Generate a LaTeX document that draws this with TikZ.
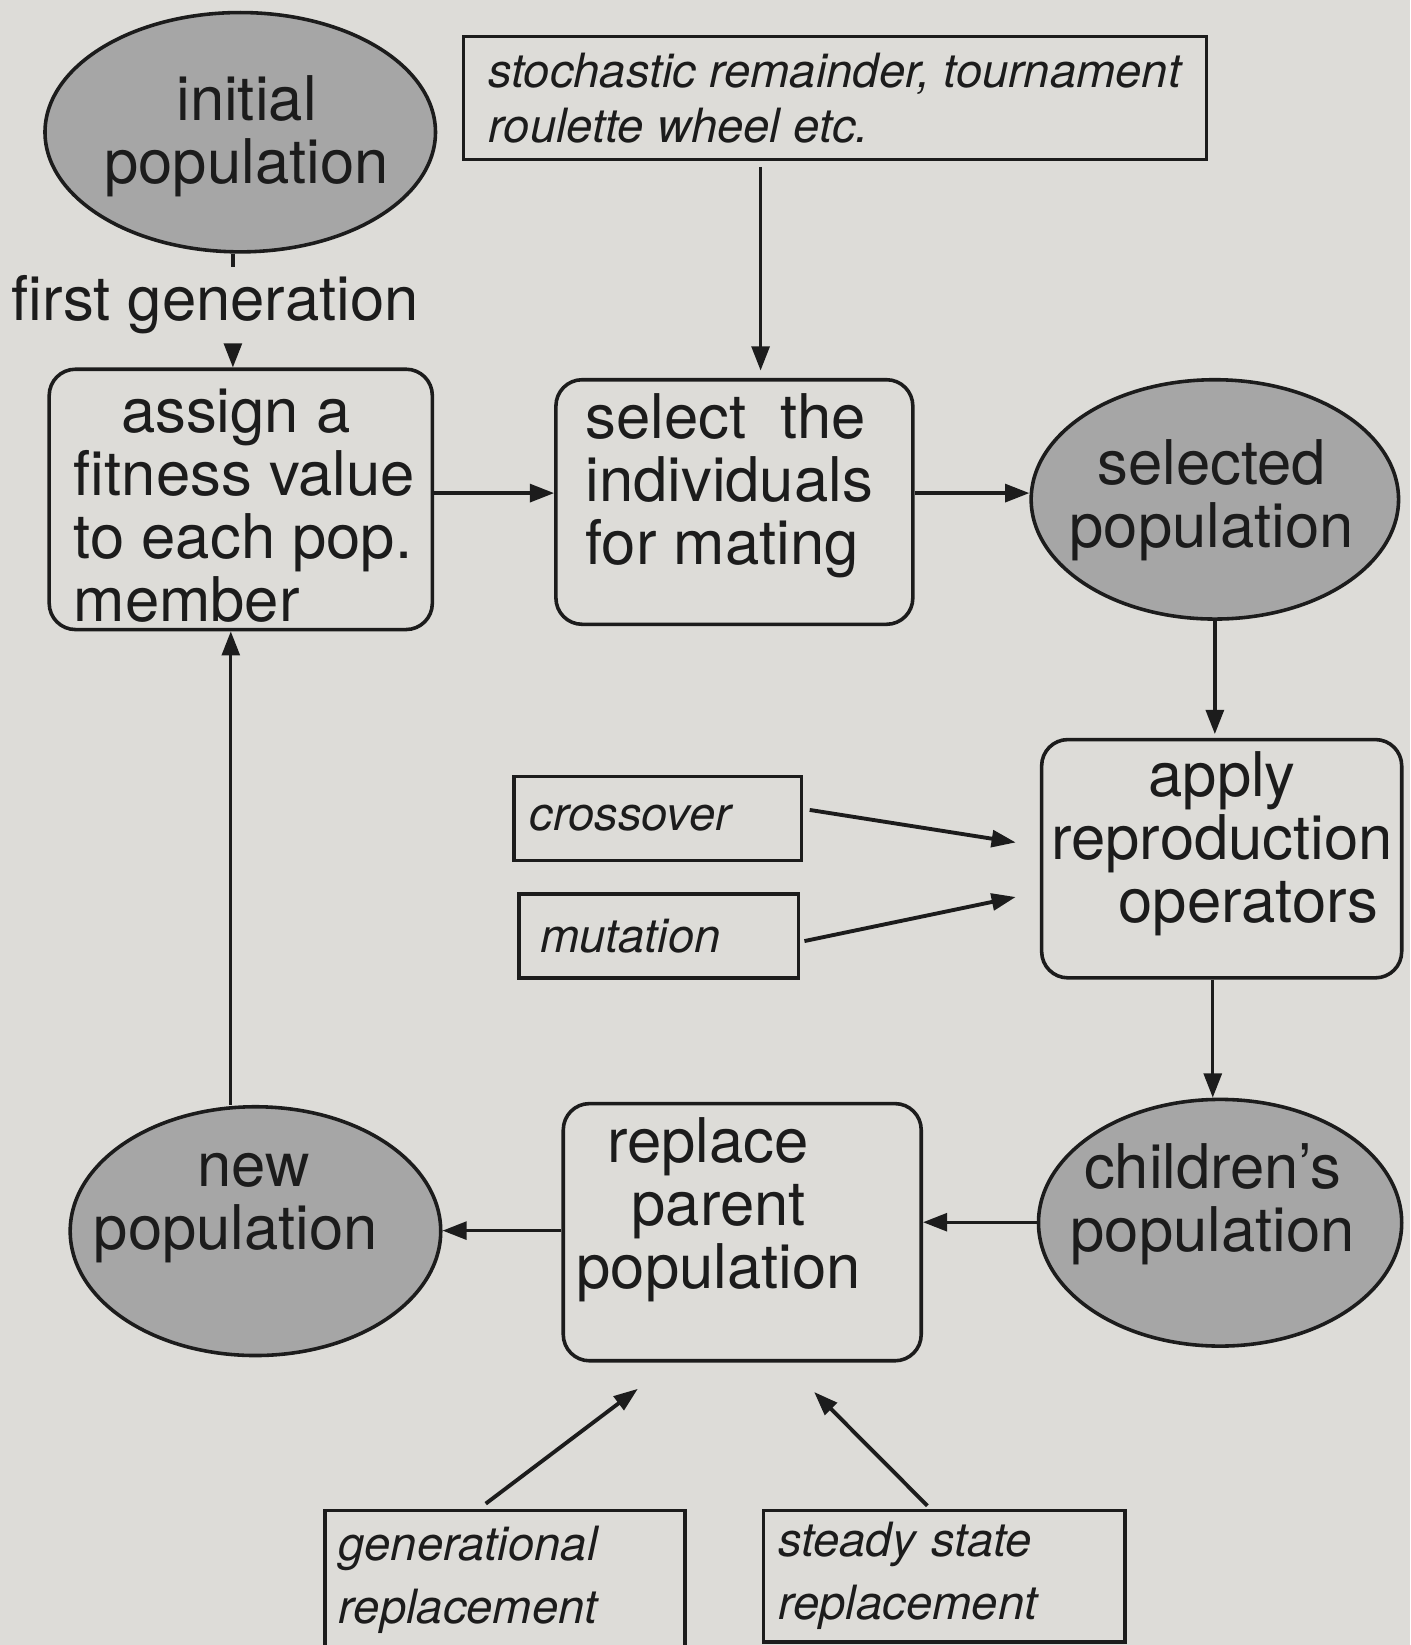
\documentclass[tikz,border=0pt]{standalone}
\usepackage{fontspec}
\setmainfont{TeX Gyre Heros}
\usetikzlibrary{arrows.meta,shapes.geometric,calc}

\definecolor{paper}{RGB}{221,220,216}
\definecolor{shade}{RGB}{166,166,166}
\definecolor{ink}{RGB}{28,28,28}

% type sizes (1 unit = 0.01cm)
\newcommand\bigtxt{\fontsize{16.7}{17.07}\selectfont}
\newcommand\notetxt{\fontsize{12.8}{17.07}\selectfont\itshape}
\newcommand\stochtxt{\fontsize{12.8}{15.08}\selectfont\itshape}

\begin{document}
\begin{tikzpicture}[x=0.01cm,y=-0.01cm,
  every node/.style={inner sep=0pt, text=ink},
  popshape/.style={ellipse, draw=ink, line width=0.97pt, fill=shade},
  procbox/.style={rectangle, rounded corners=0.25cm, draw=ink, line width=0.97pt},
  notebox/.style={rectangle, draw=ink, line width=0.97pt, align=left, font=\notetxt},
  maintext/.style={font=\bigtxt, align=center},
  plain/.style={draw=ink, line width=0.9pt},
  flow/.style={draw=ink, line width=0.9pt, -{Triangle[length=0.23cm,width=0.17cm]}},
  slant/.style={draw=ink, line width=1.05pt, -{Triangle[length=0.23cm,width=0.16cm]}},
]
% page
\fill[paper] (0,0) rectangle (1344,1568);
\useasboundingbox (0,0) rectangle (1344,1568);

% guide rows and columns for the straight connectors
\coordinate (colA) at (222,0);
\coordinate (colB) at (220,0);
\coordinate (colC) at (725,0);
\coordinate (colD) at (1158,0);
\coordinate (colE) at (1156,0);
\coordinate (rowA) at (0,470);
\coordinate (rowB) at (0,1165);
\coordinate (rowC) at (0,1173);

% populations (shaded ellipses)
\node[popshape, minimum width=3.72cm, minimum height=2.28cm] (init) at (229,126) {};
\node[maintext] (initT) at (235,130) {initial\\population};

\node[popshape, minimum width=3.50cm, minimum height=2.28cm] (selpop) at (1158,476) {};
\node[maintext] (selpopT) at (1155,477) {selected\\population};

\node[popshape, minimum width=3.46cm, minimum height=2.35cm] (kids) at (1163,1165.5) {};
\node[maintext] (kidsT) at (1156,1148) {children’s\\population};

\node[popshape, minimum width=3.53cm, minimum height=2.37cm] (newpop) at (243.5,1173.5) {};
\node[maintext] (newpopT) at (225,1152) {\hspace*{0.34cm}new\\population};

% processing steps (rounded boxes)
\node[procbox, minimum width=3.65cm, minimum height=2.48cm] (assign) at (229.5,476) {};
\node[maintext, align=left] (assignT) at (233,482) {\hspace*{0.45cm}assign a\\fitness value\\to each pop.\\member};

\node[procbox, minimum width=3.40cm, minimum height=2.33cm] (select) at (700,478.5) {};
\node[maintext, align=left] (selectT) at (695,463) {select\ \ the\\individuals\\for mating};

\node[procbox, minimum width=3.43cm, minimum height=2.27cm] (apply) at (1164.5,818.5) {};
\node[maintext] (applyT) at (1165,804) {apply\\reproduction\\\hspace*{0.5cm}operators};

\node[procbox, minimum width=3.41cm, minimum height=2.45cm] (replace) at (707.5,1174.5) {};
\node[maintext] (replaceT) at (685,1153) {replace\hspace*{0.2cm}\\parent\\population};

% label on the first connector
\node[maintext] (firstgen) at (205,290) {first generation};

% option boxes (italic notes)
\node[notebox, font=\stochtxt, minimum width=7.08cm, minimum height=1.17cm] (stoch) at (796,93.5)
  {stochastic remainder, tournament\\roulette wheel etc.};
\node[notebox, minimum width=2.74cm, minimum height=0.80cm, text width=2.44cm] (cross) at (627,780) {crossover};
\node[notebox, minimum width=2.66cm, minimum height=0.80cm, text width=2.26cm] (mut) at (628,892) {mutation};
\node[notebox, minimum width=3.43cm, minimum height=1.32cm, text width=3.17cm] (gen) at (481.5,1506)
  {generational\\replacement};
\node[notebox, minimum width=3.44cm, minimum height=1.25cm, text width=3.16cm] (steady) at (900,1502.5)
  {steady state\\replacement};

% main cycle
\draw[plain] (init.south -| colA) -- ([yshift=2pt]firstgen.north -| colA);
\draw[flow, shorten <=3pt] (firstgen.south -| colA) -- (assign.north -| colA);
\draw[flow] (assign.east |- rowA) -- (select.west |- rowA);
\draw[flow, shorten <=1.5pt, shorten >=2pt] (stoch.south -| colC) -- (select.north -| colC);
\draw[flow] (select.east |- rowA) -- (selpop.west |- rowA);
\draw[flow, shorten >=1pt] (selpop.south -| colD) -- (apply.north -| colD);
\draw[flow] (apply.south -| colE) -- (kids.north -| colE);
\draw[flow] (kids.west |- rowB) -- (replace.east |- rowB);
\draw[flow] (replace.west |- rowC) -- (newpop.east |- rowC);
\draw[flow] (newpop.north -| colB) -- (assign.south -| colB);

% operator and replacement options
\draw[slant] ([shift={(6,-8)}]cross.east) -- ([shift={(-23,-15.5)}]apply.west);
\draw[slant] ([shift={(4,5)}]mut.east) -- ([shift={(-23,36.5)}]apply.west);
\draw[slant] ([shift={(-18.5,-5)}]gen.north) -- ([shift={(-99.5,25)}]replace.south);
\draw[slant] ([shift={(-16,-3)}]steady.north) -- ([shift={(68.5,28)}]replace.south);
\end{tikzpicture}
\end{document}
